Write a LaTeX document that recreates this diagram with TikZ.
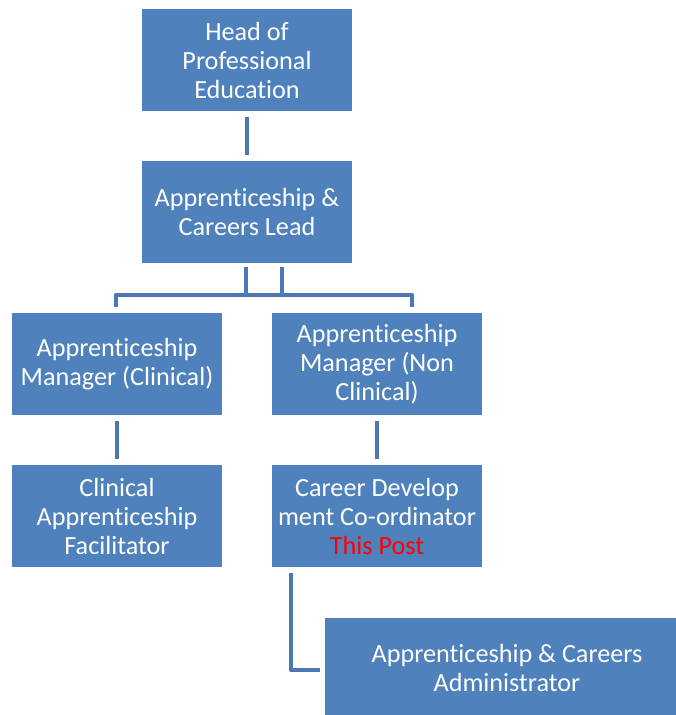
\documentclass[tikz,border=0pt]{standalone}
\usepackage{fontspec}
\setmainfont[Ligatures=NoCommon]{Carlito}
\definecolor{boxblue}{HTML}{4F81BD}
\definecolor{lineblue}{HTML}{4A79B3}
\definecolor{postred}{HTML}{FF0000}
\begin{document}
\begin{tikzpicture}[x=1pt,y=-1pt,
  orgbox/.style={fill=boxblue, draw=none, text=white, align=center,
    font=\fontsize{26.2}{29}\selectfont, inner sep=0pt},
  link/.style={draw=lineblue, line width=4.5pt}]
\useasboundingbox (0,0) rectangle (676,715);
% boxes as rectangles with text nodes
\fill[boxblue] (142,9) rectangle (352,111);
\node[orgbox] (head) at (247,60) {Head of\\Professional\\Education};
\fill[boxblue] (142,161) rectangle (352,263);
\node[orgbox] (lead) at (247,212) {Apprenticeship \&\\Careers Lead};
\fill[boxblue] (12,313) rectangle (222,415);
\node[orgbox] (mgrc) at (117,364) {Apprenticeship\\Manager (Clinical)};
\fill[boxblue] (272,313) rectangle (482,415);
\node[orgbox] (mgrn) at (377,364) {Apprenticeship\\Manager (Non\\Clinical)};
\fill[boxblue] (12,465) rectangle (222,567);
\node[orgbox] (fac) at (117,516) {Clinical\\Apprenticeship\\Facilitator};
\fill[boxblue] (272,465) rectangle (482,567);
\node[orgbox] (coord) at (377,516) {Career Develop\\ment Co-ordinator\\\textcolor{postred}{This Post}};
\fill[boxblue] (325,618) rectangle (676,715);
\node[orgbox] (admin) at (507,668) {Apprenticeship \& Careers\\Administrator};
% anchors for connectors
\coordinate (headb) at (247,117);
\coordinate (leadt) at (247,155);
\coordinate (leadb1) at (246,267);
\coordinate (leadb2) at (282,267);
\coordinate (bar1) at (116,295);
\coordinate (bar2) at (412,295);
\coordinate (mgrct) at (116,307);
\coordinate (mgrnt) at (412,307);
\coordinate (mgrcb) at (117,421);
\coordinate (fact) at (117,459);
\coordinate (mgrnb) at (377,421);
\coordinate (coordt) at (377,459);
\coordinate (coordb) at (291,573);
\coordinate (corner) at (291,670);
\coordinate (adminl) at (320,670);
\draw[link] (headb) -- (leadt);
\draw[link] (leadb1) -- (leadb1 |- bar1);
\draw[link] (leadb2) -- (leadb2 |- bar1);
\draw[link, line join=round] (mgrct) -- (bar1) -- (bar2) -- (mgrnt);
\draw[link] (mgrcb) -- (fact);
\draw[link] (mgrnb) -- (coordt);
\draw[link, line join=round] (coordb) -- (corner) -- (adminl);
\end{tikzpicture}
\end{document}
